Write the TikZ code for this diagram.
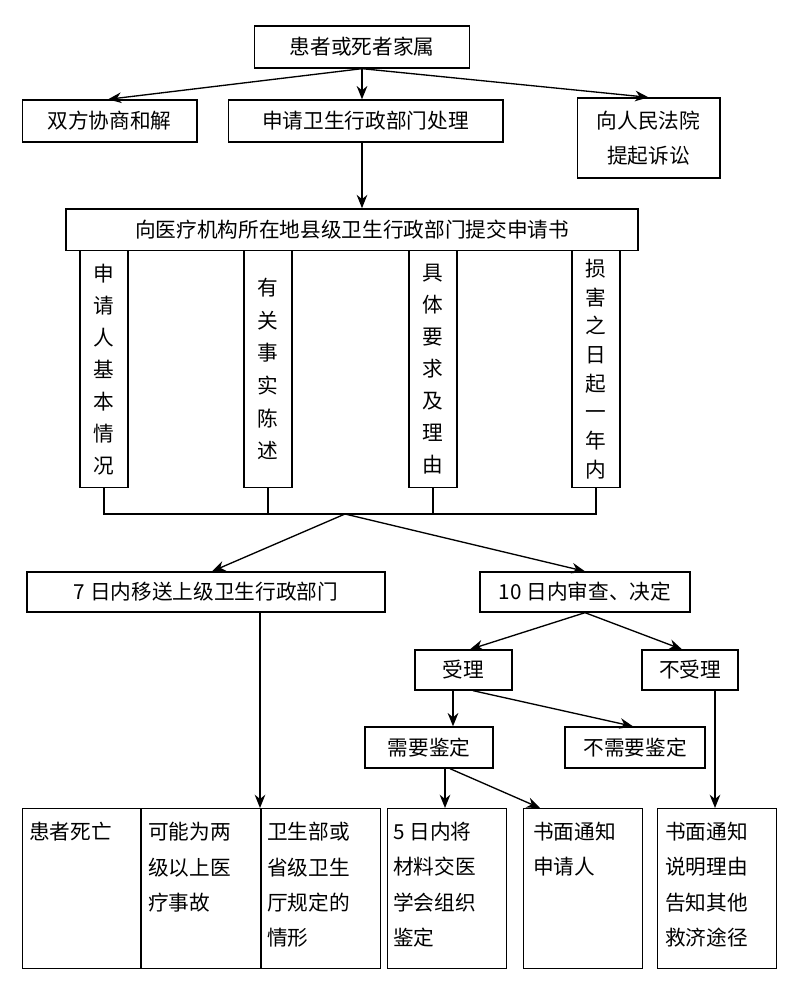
\documentclass[tikz,border=0pt]{standalone}
\usepackage{fontspec}
\setmainfont{Noto Sans CJK SC}
\usetikzlibrary{arrows.meta}
\begin{document}
\begin{tikzpicture}[x=0.75pt,y=-0.75pt,
  box/.style={draw,line width=1pt,inner sep=0pt,font=\fontsize{15.5}{26}\selectfont,align=center},
  arr/.style={-{Stealth[length=10pt,width=8pt]},line width=1pt},
  ln/.style={line width=1pt},
  vbox/.style={box,minimum width=36pt,minimum height=177.75pt,anchor=north},
  frame/.style={draw,line width=1pt,anchor=north west,minimum width=89.25pt,minimum height=120pt,inner sep=0pt},
  btxt/.style={anchor=north west,inner sep=0pt,align=left,font=\fontsize{15.5}{26.5}\selectfont}]
\useasboundingbox (0,0) rectangle (800,988);
\node[box,minimum width=161pt,minimum height=31.5pt] (top) at (362,47) {患者或死者家属};
\node[box,minimum width=131pt,minimum height=31.5pt] (xie) at (109.5,121) {双方协商和解};
\node[box,minimum width=206pt,minimum height=31.5pt] (shen) at (365.5,121) {申请卫生行政部门处理};
\node[box,minimum width=107pt,minimum height=60pt] (fa) at (648.5,138) {向人民法院\\提起诉讼};
\node[box,minimum width=429pt,minimum height=31pt] (sub) at (352,229.5) {向医疗机构所在地县级卫生行政部门提交申请书};
\node[vbox,font=\fontsize{15.5}{24}\selectfont] (v1) at (104,250) {申\\请\\人\\基\\本\\情\\况};
\node[vbox,font=\fontsize{15.5}{24.5}\selectfont] (v2) at (268,250) {有\\关\\事\\实\\陈\\述};
\node[vbox,font=\fontsize{15.5}{24}\selectfont] (v3) at (433,250) {具\\体\\要\\求\\及\\理\\由};
\node[vbox,font=\fontsize{15.5}{21.5}\selectfont] (v4) at (596,250) {损\\害\\之\\日\\起\\一\\年\\内};
\coordinate (b1) at (104,514); \coordinate (b4) at (596,514);
\coordinate (bm) at (345,514);
\node[box,minimum width=268.5pt,minimum height=30pt] (seven) at (206,592) {7 日内移送上级卫生行政部门};
\node[box,minimum width=157.5pt,minimum height=30pt] (ten) at (585,592) {10 日内审查、决定};
\node[box,minimum width=72.75pt,minimum height=30pt] (shou) at (463.5,670) {受理};
\node[box,minimum width=72pt,minimum height=30pt] (bushou) at (690,670) {不受理};
\node[box,minimum width=96pt,minimum height=30.75pt] (xu) at (429,747.5) {需要鉴定};
\node[box,minimum width=105pt,minimum height=30.75pt] (buxu) at (635,747.5) {不需要鉴定};
\node[frame,minimum width=268.5pt] (tri) at (22,808) {};
\draw[ln] (141,808) -- (141,968) (261,808) -- (261,968);
\node[btxt] (t1) at (29,822) {患者死亡};
\node[btxt] (t2) at (148,822) {可能为两\\级以上医\\疗事故};
\node[btxt] (t3) at (267,822) {卫生部或\\省级卫生\\厅规定的\\情形};
\node[frame] (five) at (387,808) {};
\node[btxt] (t4) at (393,822) {5 日内将\\材料交医\\学会组织\\鉴定};
\node[frame] (shu) at (523,808) {};
\node[btxt] (t5) at (533,822) {书面通知\\申请人};
\node[frame] (shu2) at (657,808) {};
\node[btxt] (t6) at (665,822) {书面通知\\说明理由\\告知其他\\救济途径};
\draw[arr] (top.south) -- (xie.north -| 108,0) ;
\draw[arr] (top.south) -- (shen.north -| top.south);
\draw[arr] (top.south) -- (fa.north);
\draw[arr] (shen.south -| top.south) -- (sub.north -| top.south);
\draw[ln] (v1.south) -- (b1) -- (b4) -- (v4.south);
\draw[ln] (v2.south) -- (v2.south |- bm) (v3.south) -- (v3.south |- bm);
\draw[arr] (bm) -- (seven.north -| 212,0);
\draw[arr] (bm) -- (ten.north);
\draw[arr] (ten.south) -- (shou.north -| 470,0);
\draw[arr] (ten.south) -- (bushou.north -| 682,0);
\draw[arr] (shou.south -| 453,0) -- (xu.north -| 453,0);
\draw[arr] (shou.south -| 473,0) -- (buxu.north -| 633,0);
\draw[arr] (xu.south -| 445,0) -- (five.north -| 445,0);
\draw[arr] (xu.south -| 450,0) -- (shu.north -| 540,0);
\draw[arr] (seven.south -| 260,0) -- (tri.north -| 260,0);
\draw[arr] (bushou.south -| 715,0) -- (shu2.north -| 715,0);
\end{tikzpicture}
\end{document}
